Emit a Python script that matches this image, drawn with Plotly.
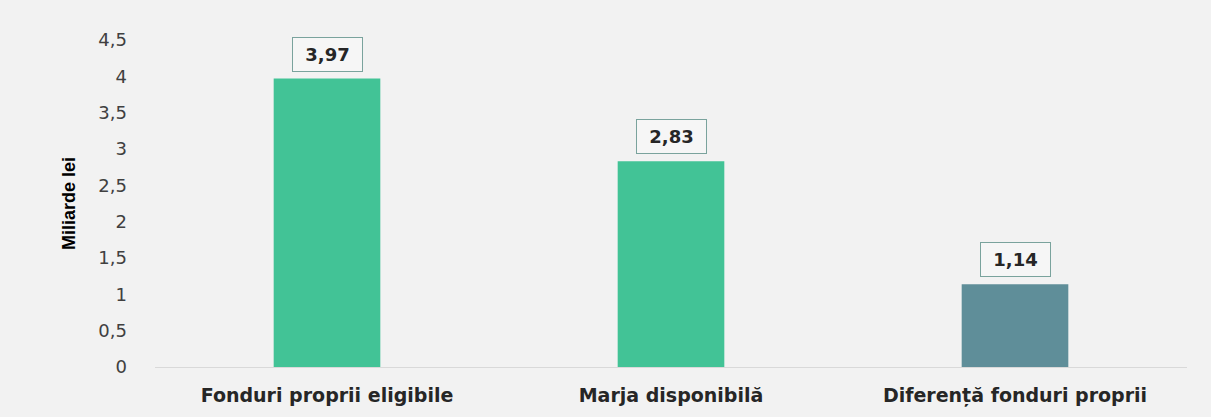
import plotly.graph_objects as go

categories = ["Fonduri proprii eligibile", "Marja disponibilă", "Diferență fonduri proprii"]
values = [3.97, 2.83, 1.14]
bar_colors = ["#42c396", "#42c396", "#5f8e99"]
y_ticks = [0, 0.5, 1, 1.5, 2, 2.5, 3, 3.5, 4, 4.5]
y_tick_text = ["0", "0,5", "1", "1,5", "2", "2,5", "3", "3,5", "4", "4,5"]

fig = go.Figure(
    go.Bar(
        x=categories,
        y=values,
        marker=dict(color=bar_colors, line=dict(width=0)),
        width=0.31,
        hoverinfo="skip",
    )
)

for cat, val in zip(categories, values):
    fig.add_annotation(
        x=cat,
        y=val,
        text=f"<b>{val:.2f}</b>".replace(".", ","),
        showarrow=False,
        yanchor="bottom",
        yshift=7,
        font=dict(family="DejaVu Sans", size=18, color="#262626"),
        bordercolor="#7aa39d",
        borderwidth=1,
        borderpad=6,
        width=57,
        height=21,
        bgcolor="rgba(255,255,255,0.35)",
    )

fig.update_layout(
    width=1211,
    height=417,
    margin=dict(l=155, r=24, t=40, b=50),
    paper_bgcolor="#f2f2f2",
    plot_bgcolor="#f2f2f2",
    showlegend=False,
    bargap=0.69,
    font=dict(family="DejaVu Sans", color="#404040"),
)

fig.update_xaxes(
    automargin=False,
    showgrid=False,
    showline=True,
    linecolor="#d9d9d9",
    linewidth=1,
    ticks="",
    tickfont=dict(family="DejaVu Sans", size=19, color="#262626", weight="bold"),
    ticklabelstandoff=11,
)

fig.update_yaxes(
    automargin=False,
    range=[0, 4.5],
    tickvals=y_ticks,
    ticktext=y_tick_text,
    showgrid=False,
    zeroline=False,
    showline=False,
    ticks="",
    tickfont=dict(family="DejaVu Sans", size=18, color="#404040"),
    ticklabelstandoff=27,
    title=dict(
        text="<b>Miliarde lei</b>",
        font=dict(family="Liberation Sans, Arial", size=18, color="#000000"),
        standoff=18,
    ),
)

fig.write_html("out.html")
